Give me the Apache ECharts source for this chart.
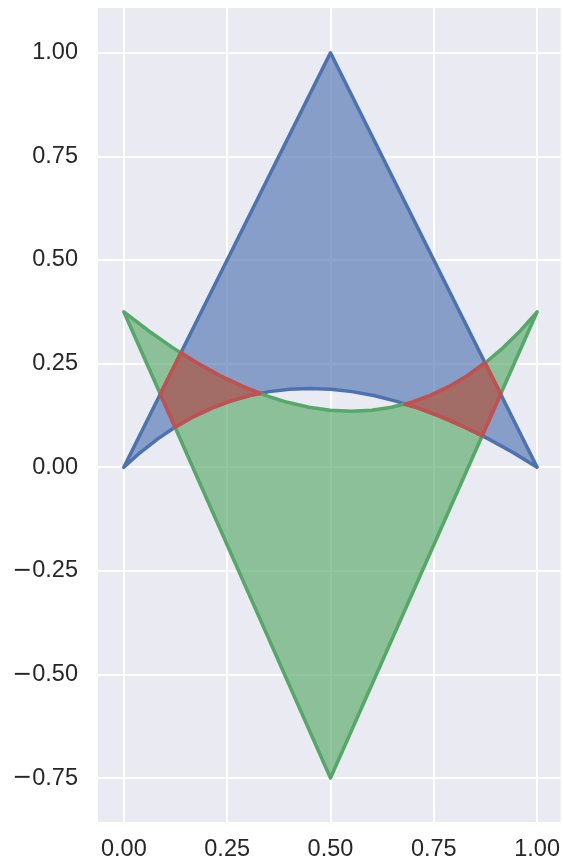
<!DOCTYPE html>
<html>
<head>
<meta charset="utf-8">
<script src="https://cdn.jsdelivr.net/npm/echarts@6/dist/echarts.min.js"></script>
<style>
html,body{margin:0;padding:0;background:#fff;}
#chart{width:563px;height:866px;}
</style>
</head>
<body>
<div id="chart"></div>
<script>
// Tick values
const xTicks = [0, 0.25, 0.5, 0.75, 1.0];
const yTicks = [-0.75, -0.5, -0.25, 0, 0.25, 0.5, 0.75, 1.0];

// Polygons ([x, y] vertices)
const bluePolygon = [
  [0, 0], [0.5, 1], [1, 0],
  [0.9405, 0.0361], [0.882, 0.0684], [0.8245, 0.0969], [0.768, 0.1216], [0.7125, 0.1425],
  [0.658, 0.1596], [0.6045, 0.1729], [0.552, 0.1824], [0.5005, 0.1881], [0.45, 0.19],
  [0.4005, 0.1881], [0.352, 0.1824], [0.3045, 0.1729], [0.258, 0.1596], [0.2125, 0.1425],
  [0.168, 0.1216], [0.1245, 0.0969], [0.082, 0.0684], [0.0405, 0.0361]
];
const greenPolygon = [
  [0, 0.375], [0.5, -0.75], [1, 0.375],
  [0.9595, 0.3294], [0.918, 0.2886], [0.8755, 0.2526], [0.832, 0.2214], [0.7875, 0.195],
  [0.742, 0.1734], [0.6955, 0.1566], [0.648, 0.1446], [0.5995, 0.1374], [0.55, 0.135],
  [0.4995, 0.1374], [0.448, 0.1446], [0.3955, 0.1566], [0.342, 0.1734], [0.2875, 0.195],
  [0.232, 0.2214], [0.1755, 0.2526], [0.118, 0.2886], [0.0595, 0.3294]
];
const redLeft = [
  [0.088, 0.176], [0.138, 0.276], [0.1755, 0.2526], [0.232, 0.2214], [0.2875, 0.195],
  [0.33, 0.178], [0.3045, 0.1729], [0.258, 0.1596], [0.2125, 0.1425], [0.168, 0.1216],
  [0.124, 0.0965]
];
const redRight = [
  [0.68, 0.152], [0.6955, 0.1566], [0.742, 0.1734], [0.7875, 0.195], [0.832, 0.2214],
  [0.874, 0.252], [0.912, 0.1765], [0.867, 0.076], [0.8245, 0.0969], [0.768, 0.1216],
  [0.7125, 0.1425]
];

const shapes = [
  { pts: bluePolygon, fill: 'rgba(76,114,176,0.64)', stroke: '#4C72B0' },
  { pts: greenPolygon, fill: 'rgba(85,168,104,0.64)', stroke: '#55A868' },
  { pts: redLeft, fill: 'rgba(196,78,82,0.64)', stroke: '#C44E52' },
  { pts: redRight, fill: 'rgba(196,78,82,0.64)', stroke: '#C44E52' }
];

function fmt(v) {
  const s = Math.abs(v).toFixed(2);
  return v < 0 ? '{m|\u2212}{n|' + s + '}' : '{n|' + s + '}';
}
const labelRich = {
  m: { fontFamily: 'DejaVu Sans', fontSize: 23.5, color: '#262626' },
  n: { fontFamily: 'Liberation Sans', fontSize: 23.5, color: '#262626' }
};

const chart = echarts.init(document.getElementById('chart'));
chart.setOption({
  animation: false,
  backgroundColor: '#ffffff',
  grid: {
    left: 98, top: 8, right: 0, bottom: 44,
    show: true, backgroundColor: '#EAEAF2', borderWidth: 0
  },
  xAxis: {
    type: 'value', min: -0.0625, max: 1.057,
    axisLine: { show: false },
    axisTick: { show: false, customValues: xTicks },
    axisLabel: { customValues: xTicks, formatter: fmt, margin: 16, rich: labelRich,
      fontFamily: 'Liberation Sans', fontSize: 23.5, color: '#262626' },
    splitLine: { show: true, lineStyle: { color: '#ffffff', width: 2 } }
  },
  yAxis: {
    type: 'value', min: -0.856, max: 1.108,
    axisLine: { show: false },
    axisTick: { show: false, customValues: yTicks },
    axisLabel: { customValues: yTicks, formatter: fmt, margin: 20, rich: labelRich,
      fontFamily: 'Liberation Sans', fontSize: 23.5, color: '#262626' },
    splitLine: { show: true, lineStyle: { color: '#ffffff', width: 2 } }
  },
  series: [{
    type: 'custom',
    coordinateSystem: 'cartesian2d',
    clip: true,
    data: shapes.map((s, i) => [i]),
    renderItem: function (params, api) {
      const s = shapes[params.dataIndex];
      return {
        type: 'polygon',
        shape: { points: s.pts.map(p => api.coord(p)) },
        style: { fill: s.fill, stroke: s.stroke, lineWidth: 3.5, lineJoin: 'round' }
      };
    }
  }]
});
</script>
</body>
</html>
